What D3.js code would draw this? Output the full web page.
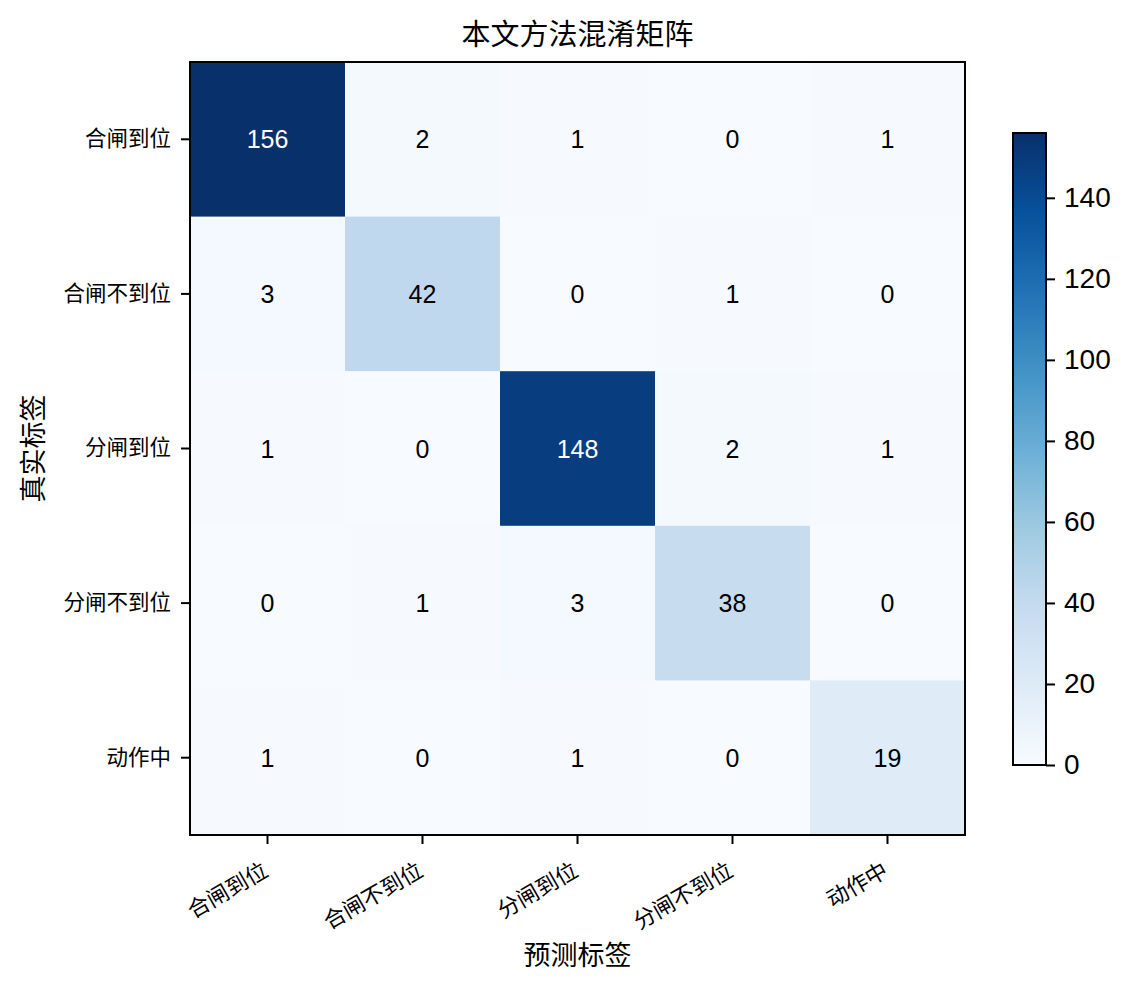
<!DOCTYPE html>
<html><head><meta charset="utf-8">
<script src="https://cdn.jsdelivr.net/npm/d3@7"></script>
<style>body{margin:0;background:#fff}</style>
</head><body>
<svg id="c" width="1134" height="989"></svg>
<script>
const categories = ["合闸到位","合闸不到位","分闸到位","分闸不到位","动作中"];
const matrix = [
  [156, 2, 1, 0, 1],
  [3, 42, 0, 1, 0],
  [1, 0, 148, 2, 1],
  [0, 1, 3, 38, 0],
  [1, 0, 1, 0, 19]
];
const cbTicks = [0,20,40,60,80,100,120,140];
const title = "本文方法混淆矩阵";
const xLabel = "预测标签";
const yLabel = "真实标签";

const FONT = "'Liberation Sans','Noto Sans CJK SC',sans-serif";
const CJK = "'Noto Sans CJK SC',sans-serif";
const svg = d3.select("#c");
const L=190, T=62, R=965, B=835;
const vmax = d3.max(matrix.flat());
const blues = ['#f7fbff','#deebf7','#c6dbef','#9ecae1','#6baed6','#4292c6','#2171b5','#08519c','#08306b'];
const color = d3.scaleLinear().domain(blues.map((d,i)=>i/8*vmax)).range(blues).interpolate(d3.interpolateRgb);

const x = d3.scaleBand().domain(d3.range(5)).range([L,R]);
const y = d3.scaleBand().domain(d3.range(5)).range([T,B]);

const cells = [];
matrix.forEach((row,i)=>row.forEach((v,j)=>cells.push({i,j,v})));
svg.append("g").selectAll("rect").data(cells).join("rect")
  .attr("x",d=>x(d.j)).attr("y",d=>y(d.i))
  .attr("width",x.bandwidth()+0.5).attr("height",y.bandwidth()+0.5)
  .attr("fill",d=>color(d.v));
svg.append("g").selectAll("text").data(cells).join("text")
  .attr("x",d=>x(d.j)+x.bandwidth()/2).attr("y",d=>y(d.i)+y.bandwidth()/2)
  .attr("dy","0.36em").attr("text-anchor","middle")
  .attr("font-family",FONT).attr("font-size",25)
  .attr("fill",d=>d.v>vmax/2?"#fff":"#000")
  .text(d=>d.v);

svg.append("rect").attr("x",L).attr("y",T).attr("width",R-L).attr("height",B-T)
  .attr("fill","none").attr("stroke","#000").attr("stroke-width",2);

// y axis
const yAxis = svg.append("g").attr("transform",`translate(${L},0)`)
  .call(d3.axisLeft(y).tickSize(9).tickPadding(10).tickFormat(i=>categories[i]));
yAxis.select(".domain").remove();
yAxis.selectAll("line").attr("stroke-width",2);
yAxis.selectAll("text").attr("font-family",CJK).attr("font-size",21.5).attr("fill","#000");

// x axis
const xAxis = svg.append("g").attr("transform",`translate(0,${B})`)
  .call(d3.axisBottom(x).tickSize(9).tickFormat(i=>categories[i]));
xAxis.select(".domain").remove();
xAxis.selectAll("line").attr("stroke-width",2);
xAxis.selectAll("text").attr("font-family",CJK).attr("font-size",22).attr("fill","#000")
  .attr("text-anchor","end").attr("dy",null).attr("y",null)
  .attr("transform","translate(2,40) rotate(-30)");

svg.append("text").attr("x",(L+R)/2).attr("y",45).attr("text-anchor","middle")
  .attr("font-family",CJK).attr("font-size",29).text(title);
svg.append("text").attr("x",(L+R)/2).attr("y",965).attr("text-anchor","middle")
  .attr("font-family",CJK).attr("font-size",27).text(xLabel);
svg.append("text").attr("transform",`translate(43,${(T+B)/2}) rotate(-90)`).attr("text-anchor","middle")
  .attr("font-family",CJK).attr("font-size",27).text(yLabel);

// colorbar
const cbL=1013, cbR=1046, cbB=765;
const cy = d3.scaleLinear().domain([0,vmax]).range([cbB,133]);
const defs = svg.append("defs");
const grad = defs.append("linearGradient").attr("id","g").attr("x1",0).attr("y1",1).attr("x2",0).attr("y2",0);
blues.forEach((c,i)=>grad.append("stop").attr("offset",i/8).attr("stop-color",c));
svg.append("rect").attr("x",cbL).attr("y",cy(vmax)).attr("width",cbR-cbL).attr("height",cbB-cy(vmax))
  .attr("fill","url(#g)").attr("stroke","#000").attr("stroke-width",2);
const cAxis = svg.append("g").attr("transform",`translate(${cbR},0)`)
  .call(d3.axisRight(cy).tickValues(cbTicks).tickSize(9).tickPadding(9));
cAxis.select(".domain").remove();
cAxis.selectAll("line").attr("stroke-width",2);
cAxis.selectAll("text").attr("font-family",FONT).attr("font-size",28).attr("fill","#000");
</script>
</body></html>
